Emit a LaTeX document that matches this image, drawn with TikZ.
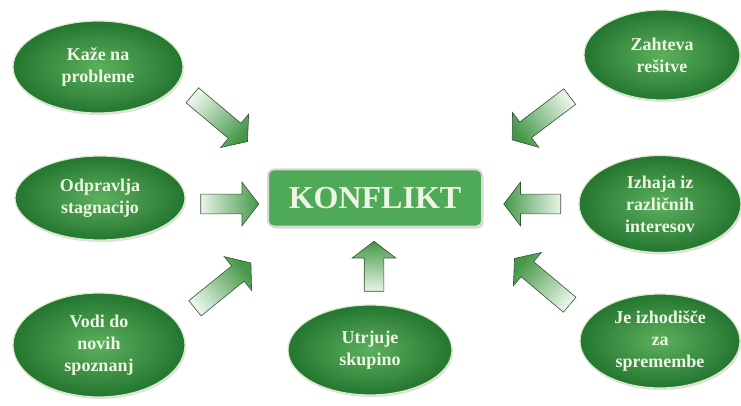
\documentclass[tikz,border=0pt]{standalone}
\usepackage{fontspec}
\setmainfont{Liberation Serif}
\usetikzlibrary{shapes.geometric,shapes.arrows,shadows}
\definecolor{konfGreen}{RGB}{78,170,86}
\definecolor{ballDark}{RGB}{36,118,48}
\definecolor{ballLight}{RGB}{92,176,92}
\definecolor{rimColor}{RGB}{218,234,204}
\definecolor{creamText}{RGB}{238,245,228}
\definecolor{arrowLight}{RGB}{232,244,232}
\definecolor{arrowDark}{RGB}{68,152,72}
\definecolor{arrowEdge}{RGB}{55,80,58}
\tikzset{
  ball/.style={ellipse,draw=rimColor,line width=1.2pt,inner color=ballLight,outer color=ballDark,
    drop shadow={opacity=0.25,shadow xshift=1pt,shadow yshift=-2pt},
    text=creamText,font=\rmfamily\fontsize{18}{22}\selectfont\bfseries,align=center,inner sep=0pt},
  blockarrow/.style={single arrow,draw=arrowEdge,line width=0.6pt,top color=arrowDark,bottom color=arrowLight,
    inner sep=0pt,single arrow head extend=12pt,single arrow tip angle=105,minimum height=#1},
  blockarrow/.default=72pt
}
\begin{document}
\begin{tikzpicture}[x=1pt,y=-1pt]
  \useasboundingbox (0,0) rectangle (741,406);
  \node[draw=white!85!black,line width=2pt,fill=konfGreen,rounded corners=6pt,minimum width=214pt,minimum height=57pt,
    text=creamText,font=\rmfamily\fontsize{32}{36}\selectfont\bfseries,
    drop shadow={opacity=0.3,shadow xshift=1.5pt,shadow yshift=-2pt}] (konf) at (375,198) {KONFLIKT};
  \node[ball,minimum width=170pt,minimum height=92pt] (kaze) at (98,67) {Kaže na\\probleme};
  \node[ball,minimum width=170pt,minimum height=84pt] (odpr) at (100,198) {Odpravlja\\stagnacijo};
  \node[ball,minimum width=172pt,minimum height=104pt] (vodi) at (99,345) {Vodi do\\novih\\spoznanj};
  \node[ball,minimum width=164pt,minimum height=90pt] (utrj) at (370,350) {Utrjuje\\skupino};
  \node[ball,minimum width=156pt,minimum height=90pt] (zaht) at (662,55) {Zahteva\\rešitve};
  \node[ball,minimum width=162pt,minimum height=97pt] (izha) at (660,204) {Izhaja iz\\različnih\\interesov};
  \node[ball,minimum width=160pt,minimum height=94pt] (jeiz) at (660,341) {Je izhodišče\\za\\spremembe};
  \node[blockarrow,rotate=-40,shading angle=-130] (akaze) at (217,116) {\rule{0pt}{19pt}};
  \node[blockarrow=58pt,shading angle=-90] (aodpr) at (226,204) {\rule{0pt}{19pt}};
  \node[blockarrow,rotate=39,shading angle=-51] (avodi) at (220,288) {\rule{0pt}{19pt}};
  \node[blockarrow=50pt,rotate=90,shading angle=0] (autrj) at (374,270) {\rule{0pt}{19pt}};
  \node[blockarrow,rotate=-143,shading angle=127] (azaht) at (544,116) {\rule{0pt}{19pt}};
  \node[blockarrow=57pt,rotate=180,shading angle=90] (aizha) at (536,204) {\rule{0pt}{19pt}};
  \node[blockarrow,rotate=140,shading angle=50] (ajeiz) at (545,284) {\rule{0pt}{19pt}};
\end{tikzpicture}
\end{document}
